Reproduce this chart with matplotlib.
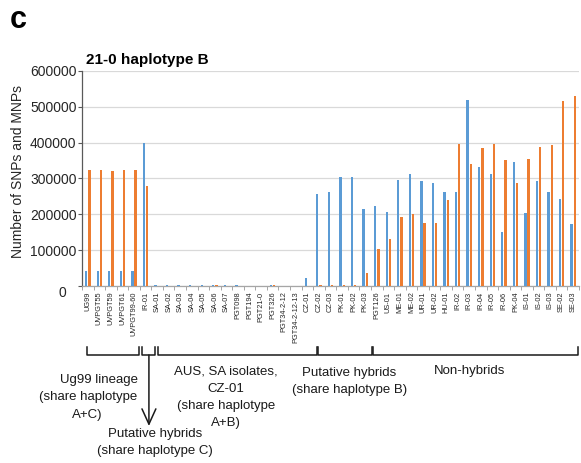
import matplotlib
matplotlib.use("Agg")
import matplotlib.pyplot as plt
import numpy as np

plt.rcParams['font.family'] = ['Liberation Sans', 'DejaVu Sans']

categories = ["UG99", "UVPGT55", "UVPGT59", "UVPGT61", "UVPGT99-60", "IR-01",
              "SA-01", "SA-02", "SA-03", "SA-04", "SA-05", "SA-06", "SA-07",
              "PGT098", "PGT194", "PGT21-0", "PGT326", "PGT34-2-12", "PGT34-2-12-13",
              "CZ-01", "CZ-02", "CZ-03", "PK-01", "PK-02", "PK-03", "PGT126",
              "US-01", "ME-01", "ME-02", "UR-01", "UR-02", "HU-01",
              "IR-02", "IR-03", "IR-04", "IR-05", "IR-06", "PK-04",
              "IS-01", "IS-02", "IS-03", "SE-02", "SE-03"]

blue_values = [43000, 43000, 43000, 43000, 43000, 399000,
               1500, 1500, 1500, 1500, 1500, 1500, 1500,
               1500, 1000, 1000, 2000, 1000, 1000,
               21000, 257000, 261000, 304000, 304000, 216000, 222000,
               206000, 295000, 312000, 294000, 288000, 262000,
               263000, 519000, 331000, 313000, 151000, 345000,
               203000, 292000, 262000, 243000, 174000]

orange_values = [325000, 323000, 320000, 323000, 325000, 280000,
                 1000, 1000, 1000, 1000, 1000, 2000, 1000,
                 1000, 1000, 1000, 2000, 1000, 1000,
                 1000, 2000, 2000, 2000, 1500, 37000, 104000,
                 132000, 193000, 200000, 177000, 175000, 240000,
                 395000, 341000, 385000, 397000, 353000, 288000,
                 354000, 388000, 394000, 515000, 530000]

y_ticks = [0, 100000, 200000, 300000, 400000, 500000, 600000]

# group brackets (start index, end index) in category units
brackets = [(-0.04, 4.45), (4.66, 5.81), (6.10, 19.8), (19.91, 24.56), (24.70, 42.43)]

W, H = 581, 463
fig = plt.figure(figsize=(W / 100, H / 100), dpi=100)
ax_l, ax_r, ax_t, ax_b = 82, 579, 71, 286
ax = fig.add_axes([ax_l / W, 1 - ax_b / H, (ax_r - ax_l) / W, (ax_b - ax_t) / H])

blue = '#5B9BD5'
orange = '#ED7D31'
x = np.arange(len(categories))
bw = 0.2
ax.bar(x - 0.14, blue_values, width=bw, color=blue, zorder=3)
ax.bar(x + 0.14, orange_values, width=bw, color=orange, zorder=3)

ax.set_xlim(-0.5, len(categories) - 0.5)
ax.set_ylim(0, 600000)
ax.set_yticks(y_ticks)
ax.set_yticklabels([''] + [str(v) for v in y_ticks[1:]], fontsize=10, color='#262626')
ax.yaxis.grid(True, color='#D9D9D9', lw=0.9, zorder=0)
ax.set_axisbelow(True)
ax.tick_params(axis='y', length=3, width=0.8, color='#595959', pad=1)

ax.set_xticks(x)
ax.set_xticklabels(categories, rotation=90, fontsize=5.3, color='#262626')
ax.tick_params(axis='x', length=0, pad=4)
ax.set_xticks(np.arange(-0.5, len(categories), 1.0), minor=True)
ax.tick_params(axis='x', which='minor', length=3, width=0.7, color='#A6A6A6')

for s in ['top', 'right']:
    ax.spines[s].set_visible(False)
ax.spines['left'].set_color('#595959')
ax.spines['left'].set_linewidth(0.9)
ax.spines['bottom'].set_color('#A6A6A6')
ax.spines['bottom'].set_linewidth(0.9)

# overlay in pixel coordinates for annotations
ov = fig.add_axes([0, 0, 1, 1], zorder=-1)
ov.set_xlim(0, W)
ov.set_ylim(H, 0)
ov.axis('off')

ov.text(10, 20, 'c', fontsize=22, fontweight='bold', ha='left', va='center')
ov.text(86, 60, '21-0 haplotype B', fontsize=11, fontweight='bold', ha='left', va='center')
ov.text(18, 172, 'Number of SNPs and MNPs', fontsize=10, rotation=90, ha='center', va='center', color='#262626')
ov.text(62, 293, '0', fontsize=10, ha='center', va='center', color='#262626')

# brackets below axis
def ypix(py):
    return (ax_b - py) / (ax_b - ax_t)

trans = ax.get_xaxis_transform()
y_line = ypix(355)
y_tip = ypix(347)
for a, b in brackets:
    ax.plot([a, a, b, b], [y_tip, y_line, y_line, y_tip], transform=trans,
             color='#1a1a1a', lw=1.1, clip_on=False)

ax.annotate('', xy=(5.29, ypix(426)), xytext=(5.29, y_line),
            xycoords=trans, textcoords=trans,
            arrowprops=dict(arrowstyle='->, head_length=1.1, head_width=0.5',
                            color='#1a1a1a', lw=1.1, shrinkA=0, shrinkB=0))

fs = 9.5
tc = '#1a1a1a'
ov.text(99, 380, 'Ug99 lineage', fontsize=fs, ha='center', va='center', color=tc)
ov.text(88, 397, '(share haplotype', fontsize=fs, ha='center', va='center', color=tc)
ov.text(87, 415, 'A+C)', fontsize=fs, ha='center', va='center', color=tc)

ov.text(226, 372, 'AUS, SA isolates,', fontsize=fs, ha='center', va='center', color=tc)
ov.text(226, 389, 'CZ-01', fontsize=fs, ha='center', va='center', color=tc)
ov.text(226, 406, '(share haplotype', fontsize=fs, ha='center', va='center', color=tc)
ov.text(226, 423, 'A+B)', fontsize=fs, ha='center', va='center', color=tc)

ov.text(349, 373, 'Putative hybrids', fontsize=fs, ha='center', va='center', color=tc)
ov.text(350, 390, '(share haplotype B)', fontsize=fs, ha='center', va='center', color=tc)

ov.text(470, 371, 'Non-hybrids', fontsize=fs, ha='center', va='center', color=tc)

ov.text(155, 434, 'Putative hybrids', fontsize=fs, ha='center', va='center', color=tc)
ov.text(155, 451, '(share haplotype C)', fontsize=fs, ha='center', va='center', color=tc)

fig.savefig('out.png', dpi=100)
